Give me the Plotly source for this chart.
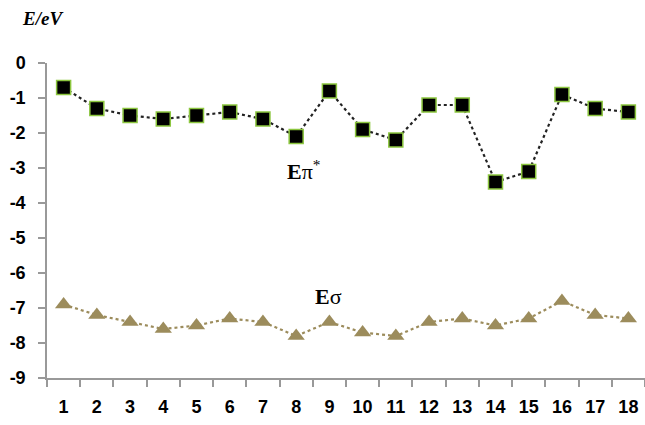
import plotly.graph_objects as go

# Site numbers along the x axis
site_numbers = list(range(1, 19))

# Orbital energies in eV
e_pi_star = [-0.7, -1.3, -1.5, -1.6, -1.5, -1.4, -1.6, -2.1, -0.8,
             -1.9, -2.2, -1.2, -1.2, -3.4, -3.1, -0.9, -1.3, -1.4]
e_sigma = [-6.9, -7.2, -7.4, -7.6, -7.5, -7.3, -7.4, -7.8, -7.4,
           -7.7, -7.8, -7.4, -7.3, -7.5, -7.3, -6.8, -7.2, -7.3]

y_ticks = [0, -1, -2, -3, -4, -5, -6, -7, -8, -9]

categories = [str(i) for i in site_numbers]

fig = go.Figure()

fig.add_trace(go.Scatter(
    x=categories, y=e_pi_star, mode="lines+markers",
    line=dict(color="#222222", width=2.2, dash="dot"),
    marker=dict(symbol="square", size=14, color="black",
                line=dict(color="#8cc63f", width=1.5)),
    showlegend=False,
))

fig.add_trace(go.Scatter(
    x=categories, y=e_sigma, mode="lines+markers",
    line=dict(color="#9c8c5c", width=2.2, dash="dot"),
    marker=dict(symbol="triangle-up", size=15, color="#9c8c5c"),
    showlegend=False,
))

tick_size = 18

fig.update_layout(
    width=645, height=425,
    margin=dict(l=47, r=0, t=63, b=47),
    paper_bgcolor="white", plot_bgcolor="white",
    font=dict(family="Liberation Sans, Arial, sans-serif", size=tick_size,
              color="black"),
    xaxis=dict(
        type="category", range=[-0.5, 17.5],
        tickmode="array", tickvals=categories,
        ticktext=[f"<b>{c}</b>" for c in categories],
        showline=True, linecolor="#999999", linewidth=1.5,
        ticks="outside", ticklen=7, tickcolor="#999999", tickwidth=1.5,
        tickson="boundaries", showgrid=False, zeroline=False,
        tickfont=dict(size=tick_size), ticklabelstandoff=12,
    ),
    yaxis=dict(
        range=[-9, 0], tickmode="array", tickvals=y_ticks,
        ticktext=[f"<b>{v}</b>" for v in y_ticks],
        showline=True, linecolor="#999999", linewidth=1.5,
        ticks="outside", ticklen=7, tickcolor="#999999", tickwidth=1.5,
        showgrid=False, zeroline=False,
        tickfont=dict(size=tick_size), ticklabelstandoff=9,
    ),
)

serif = "Liberation Serif, Times New Roman, serif"
# plot area spans 598 x 315 px; labels are placed in paper units
fig.add_annotation(
    x=-27 / 598, y=1 + 45 / 315, xref="paper", yref="paper",
    xanchor="left", yanchor="middle",
    text="<b><i>E/eV</i></b>", showarrow=False,
    font=dict(family=serif, size=19, color="black"),
)
fig.add_annotation(
    x=(304 - 47) / 598, y=(378 - 170) / 315, xref="paper", yref="paper",
    xanchor="center", yanchor="middle",
    text="<b>E</b>π<sup>*</sup>", showarrow=False,
    font=dict(family=serif, size=22, color="black"),
)
fig.add_annotation(
    x=(328 - 47) / 598, y=(378 - 296) / 315, xref="paper", yref="paper",
    xanchor="center", yanchor="middle",
    text="<b>E</b>σ", showarrow=False,
    font=dict(family=serif, size=22, color="black"),
)

fig.write_html("out.html")
